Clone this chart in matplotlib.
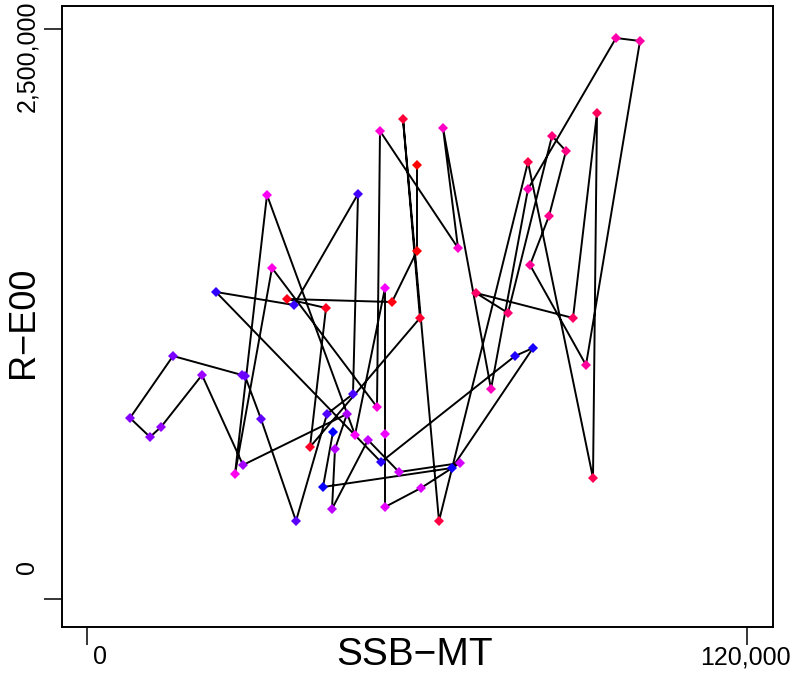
import numpy as np
import matplotlib
matplotlib.use("Agg")
import matplotlib.pyplot as plt
from matplotlib.colors import LinearSegmentedColormap

plt.rcParams['font.family'] = ['Liberation Sans', 'DejaVu Sans']

# stock-recruit pairs in time order (colour runs red -> magenta -> blue)
ssb = [60000, 60000, 55455, 36364, 43455, 40545, 60545, 57455, 64000, 80182,
       92000, 92727, 88364, 70727, 76545, 84545, 87091, 84000, 80545, 90727,
       100545, 96182, 80182, 73455, 64727, 67455, 53273, 52727, 33636, 26909,
       32727, 48727, 54182, 54182, 54182, 60727, 67818, 56727, 51091, 44545,
       45091, 47273, 28364, 20909, 13455, 11455, 7818, 15636, 28182, 28727,
       31636, 38000, 43636, 48364, 49273, 37636, 23455, 53455, 77818, 81091,
       66364, 42909, 44727]
rec = [1903509, 1526316, 1302632, 1315789, 1276316, 666667, 1232456, 2105263, 342105, 1916667,
       530702, 2131579, 1232456, 1342105, 1254386, 2030702, 1964912, 1679825, 1464912, 1026316,
       2447368, 2460526, 1798246, 921053, 2065789, 1539474, 2052632, 842105, 1451754, 548246,
       1771930, 719298, 1364035, 723684, 403509, 486842, 596491, 557018, 697368, 394737,
       657895, 811404, 587719, 982456, 754386, 710526, 793860, 1065789, 982456, 978070,
       789474, 342105, 811404, 899123, 1776316, 1289474, 1346491, 600877, 1065789, 1100877,
       574561, 491228, 732456]

W, H = 796, 673
fig = plt.figure(figsize=(W / 100, H / 100), dpi=100)
ax = fig.add_axes([62 / W, 1 - 627 / H, (773 - 62) / W, (627 - 6) / H])
ax.set_xlim(-4545, 124727)
ax.set_ylim(-122807, 2600877)

cmap = LinearSegmentedColormap.from_list("yr", ["#FF0000", "#FF00FF", "#0000FF"])
cols = cmap(np.linspace(0, 1, len(ssb)))

ax.plot(ssb, rec, color="black", lw=1.4, zorder=1)
ax.scatter(ssb, rec, c=cols, marker="D", s=26, linewidths=0, zorder=2)

ax.set_xticks([0, 120000])
ax.set_yticks([0, 2500000])
ax.set_xticklabels([])
ax.set_yticklabels([])
ax.tick_params(length=13, width=1.1, direction="out")
for s in ax.spines.values():
    s.set_linewidth(1.4)

def px(x, y):
    return x / W, 1 - y / H

fig.text(*px(100, 657), "0", fontsize=18, ha="center", va="center")
fig.text(*px(745, 657), "120,000", fontsize=18, ha="center", va="center")
fig.text(*px(415, 655), "SSB\u2212MT", fontsize=28, ha="center", va="center")
fig.text(*px(27, 567), "0", fontsize=18, ha="center", va="center", rotation=90)
fig.text(*px(27, 56), "2,500,000", fontsize=18, ha="center", va="center", rotation=90)
fig.text(*px(24, 322), "R\u2212E00", fontsize=26, ha="center", va="center", rotation=90)

fig.savefig("out.png", dpi=100)
